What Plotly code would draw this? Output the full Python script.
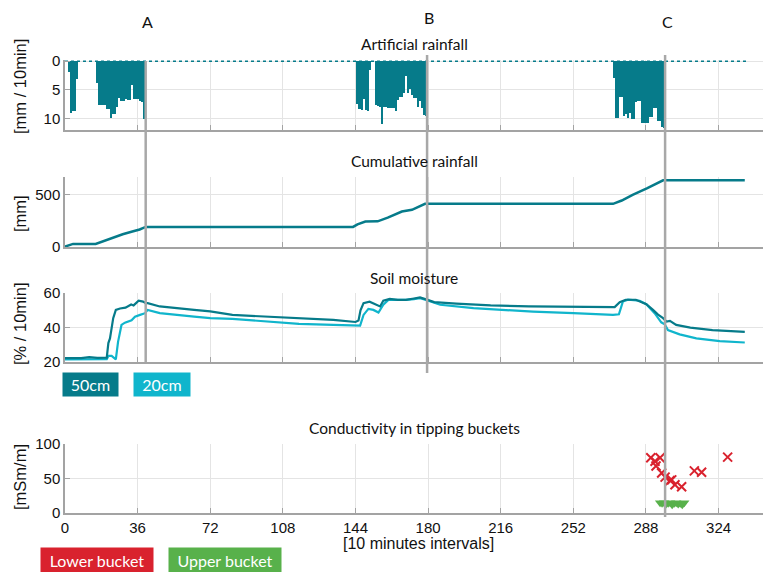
import plotly.graph_objects as go

# ---------------- data ----------------
n_intervals = 338
x_ticks = [0, 36, 72, 108, 144, 180, 216, 252, 288, 324]

# artificial rainfall [mm / 10 min] (non-zero intervals)
rain_t = ([2, 3, 4, 5, 6] + list(range(16, 40)) + list(range(145, 152)) +
          list(range(154, 180)) + list(range(272, 298)))
rain_mm = [1.9, 9.0, 8.7, 8.7, 3.2,
           3.8, 7.6, 7.6, 7.7, 7.6, 8.4, 8.4, 9.9, 9.3, 9.3, 8.1, 6.5, 7.0, 7.0, 6.6,
           6.8, 6.8, 4.2, 6.7, 6.7, 6.7, 7.0, 7.1, 10.1,
           7.5, 8.4, 8.5, 6.6, 8.6, 8.7, 1.6,
           7.6, 7.8, 8.0, 11.0, 8.0, 8.0, 8.2, 8.2, 8.2, 8.2, 8.8, 6.8, 6.2, 6.2, 5.6,
           2.6, 5.5, 4.8, 6.0, 6.5, 6.5, 8.0, 7.0, 8.2, 9.4, 9.6,
           3.0, 10.0, 10.0, 6.3, 6.3, 9.6, 9.2, 10.0, 9.1, 10.1, 10.2, 7.1, 6.9, 6.9,
           10.8, 10.8, 10.9, 10.9, 9.8, 9.8, 8.2, 8.2, 10.4, 10.4, 11.6, 11.7]

# cumulative rainfall [mm]
cum_t = [0, 4, 15.2, 20, 24, 28.6, 33.4, 37, 40, 142.8, 145, 148.9, 155, 160, 167,
         172, 178.5, 271.7, 276, 281.4, 288.7, 292, 296.5, 337]
cum_mm = [0, 26, 26, 62, 90, 119, 145, 165, 190, 190, 215, 242, 244, 280, 339,
          355, 413, 413, 445, 500, 565, 600, 640, 640]

# soil moisture [% / 10 min]
s50_t = [0, 8, 12, 16, 20.7, 21.5, 22.3, 23.9, 25.2, 27.3, 30, 32.8, 34, 36.5, 38.7,
         40, 41, 47, 64, 72, 83, 100, 116, 133, 144, 145.5, 146.5, 148, 151, 154.5,
         156.2, 157.8, 161, 165, 169, 173, 176, 179, 183, 194, 211, 230, 252, 272.5,
         275, 278, 283, 286.6, 288.2, 291.5, 294, 296.5, 298.2, 299.9, 303, 310, 321, 337]
s50_v = [22.2, 22.3, 22.8, 22.4, 22.5, 31, 33.7, 45.4, 50.2, 51, 51.5, 53.3, 52.8, 55.5,
         55, 54.1, 54.1, 52.2, 50.2, 49.3, 47.3, 46.3, 45.4, 44.4, 43.2, 44, 50, 54.1,
         55, 53.2, 52.2, 55.5, 56.6, 56, 56, 56.8, 57.4, 56.3, 54.7, 53.8, 52.8, 52.2,
         51.8, 51.8, 54.7, 56.1, 56.1, 54.1, 53.5, 50.2, 47.5, 45.4, 43.4, 43.8, 41.5,
         39.9, 38.5, 37.5]
s20_t = [0, 10, 20.7, 21.5, 23.1, 25.2, 26.3, 28, 29.7, 33, 34.7, 37.2, 39.7, 41, 47,
         64, 72, 83, 100, 116, 133, 146.3, 148, 150.4, 152.9, 155.4, 157.8, 160.3, 165,
         169, 173, 176, 179, 186, 202.5, 215.6, 232, 252, 271.7, 274.6, 276.6, 279.1,
         284.9, 288.2, 292.3, 295.6, 297.3, 298.9, 304.7, 313, 324.6, 337]
s20_v = [21.5, 21.6, 21.6, 23.5, 23.5, 21.5, 31.7, 41.5, 42.8, 44.2, 46.3, 47.3, 48.3,
         50.2, 48.3, 46.3, 45.4, 45, 43.4, 42.1, 41.5, 41.1, 47.3, 50.8, 50.2, 48.7,
         53.2, 56, 56, 56, 56.5, 57, 56, 53.2, 51.2, 50.2, 49.2, 48.3, 47.3, 47.7, 55.1,
         56.1, 55.5, 53.5, 48.3, 43, 41.9, 38.5, 36, 33.7, 32.1, 31.3]

# conductivity in tipping buckets [mSm/m]
low_t = [290.4, 292.5, 295, 293, 295.8, 297.5, 300, 300.8, 302.4, 305.7, 312, 315.6, 328.5]
low_v = [80, 75, 80, 68, 58, 52, 47, 48, 41, 38, 61, 59, 81]
up_t = [295, 296, 297, 298, 299, 300, 301, 302, 303, 304, 305, 306, 307]
up_v = [15, 14, 15, 13, 14, 15, 12, 14, 15, 13, 14, 12, 15]

# event markers
event_labels = ["A", "B", "C"]
event_t = [40, 179.5, 297.5]

# ---------------- style ----------------
TEAL = "#067B8A"
CYAN = "#10B5CC"
RED = "#D9222E"
GREEN = "#58B14B"
GRID = "#E4E4E4"
AXIS = "#A3A3A3"
OFF = 8                      # page body margin
W, H = 771 - OFF, 572 - OFF
TXT = "Lato"
NUM = "Liberation Sans"

def py(px):
    return 1 - (px - OFF) / H

def pxx(px):
    return (px - OFF) / W

fig = go.Figure()

fig.add_trace(go.Bar(x=rain_t, y=rain_mm, width=1, marker=dict(color=TEAL, line=dict(width=0)),
                     xaxis="x", yaxis="y", showlegend=False))
fig.add_trace(go.Scatter(x=[0, n_intervals], y=[0, 0], mode="lines",
                         line=dict(color=TEAL, width=1.5, dash="dot"),
                         xaxis="x", yaxis="y", showlegend=False))
fig.add_trace(go.Scatter(x=cum_t, y=cum_mm, mode="lines", line=dict(color=TEAL, width=2.5),
                         xaxis="x2", yaxis="y2", showlegend=False))
fig.add_trace(go.Scatter(x=s20_t, y=s20_v, mode="lines", line=dict(color=CYAN, width=2.2),
                         xaxis="x3", yaxis="y3", showlegend=False))
fig.add_trace(go.Scatter(x=s50_t, y=s50_v, mode="lines", line=dict(color=TEAL, width=2.2),
                         xaxis="x3", yaxis="y3", showlegend=False))
fig.add_trace(go.Scatter(x=up_t, y=up_v, mode="markers",
                         marker=dict(symbol="triangle-down", size=9, color=GREEN),
                         xaxis="x4", yaxis="y4", showlegend=False, cliponaxis=False))
fig.add_trace(go.Scatter(x=low_t, y=low_v, mode="markers",
                         marker=dict(symbol="x-thin", size=9, line=dict(width=2, color=RED)),
                         xaxis="x4", yaxis="y4", showlegend=False, cliponaxis=False))

xdom = [pxx(65), 1]
common_x = dict(range=[0, 350], tickvals=x_ticks, showgrid=True, gridcolor=GRID, gridwidth=1,
                showline=True, linecolor=AXIS, linewidth=1.5, ticks="inside", ticklen=5,
                tickcolor=AXIS, zeroline=False, domain=xdom, automargin=False,
                tickfont=dict(family=NUM, size=15, color="#111"))
common_y = dict(showgrid=True, gridcolor=GRID, gridwidth=1, showline=True, linecolor=AXIS,
                linewidth=1.5, ticks="inside", ticklen=5, tickcolor=AXIS, zeroline=False,
                automargin=False, tickfont=dict(family=NUM, size=15, color="#111"))

fig.update_layout(
    template="none",
    width=W, height=H, margin=dict(l=0, r=0, t=0, b=0, pad=0, autoexpand=False),
    paper_bgcolor="white", plot_bgcolor="white", bargap=0, showlegend=False,
    xaxis=dict(common_x, anchor="y", showticklabels=False),
    xaxis2=dict(common_x, anchor="y2", showticklabels=False),
    xaxis3=dict(common_x, anchor="y3", showticklabels=False),
    xaxis4=dict(common_x, anchor="y4", showticklabels=True),
    yaxis=dict(common_y, anchor="x", domain=[py(130), py(60)], range=[12.05, -0.2],
               tickvals=[0, 5, 10]),
    yaxis2=dict(common_y, anchor="x2", domain=[py(247), py(177)], range=[-4, 672],
                tickvals=[0, 500]),
    yaxis3=dict(common_y, anchor="x3", domain=[py(362), py(293)], range=[20, 60],
                tickvals=[20, 40, 60]),
    yaxis4=dict(common_y, anchor="x4", domain=[py(513), py(444)], range=[0, 100],
                tickvals=[0, 50, 100]),
)

def label(x, y, text, xref="paper", **kw):
    fig.add_annotation(xref=xref, yref="paper", x=x, y=y, text=text, showarrow=False,
                       xanchor="center", yanchor="middle", **kw)

# event lines
line_tops = [61, 55, 55]
line_bottoms = [362, 373, 517]
label_y = [22, 18, 22]
for lab, t, top, bot, ly in zip(event_labels, event_t, line_tops, line_bottoms, label_y):
    fig.add_shape(type="line", xref="x", yref="paper", x0=t, x1=t, y0=py(bot), y1=py(top),
                  line=dict(color="#A8A8A8", width=2.5), layer="above")
    label(t + 1, py(ly), lab, xref="x", font=dict(family=TXT, size=16, color="#111"))

# panel titles
titles = [("Artificial rainfall", 44), ("Cumulative rainfall", 161),
          ("Soil moisture", 278), ("Conductivity in tipping buckets", 428)]
for txt, ypx in titles:
    label(pxx(414), py(ypx), txt, font=dict(family=TXT, size=15.5, color="#111"))

# y-axis titles
ytitles = [("[mm / 10min]", 87), ("[mm]", 213), ("[% / 10min]", 324), ("[mSm/m]", 477)]
for txt, ypx in ytitles:
    label(pxx(20), py(ypx), txt, textangle=-90, font=dict(family=NUM, size=16.5, color="#111"))

label(pxx(418), py(543), "[10 minutes intervals]", font=dict(family=NUM, size=16, color="#111"))

# legend boxes
boxes = [("50cm", TEAL, 90.5, 384.5, 55, 23), ("20cm", CYAN, 162, 384.5, 56, 23),
         ("Lower bucket", RED, 97, 559.5, 112, 24), ("Upper bucket", GREEN, 225, 559.5, 112, 24)]
for txt, col, cx, cy, w, h in boxes:
    label(pxx(cx), py(cy), txt, bgcolor=col, width=w, height=h, borderpad=0,
          font=dict(family=TXT, size=16, color="white"))

fig.write_html("out.html")
